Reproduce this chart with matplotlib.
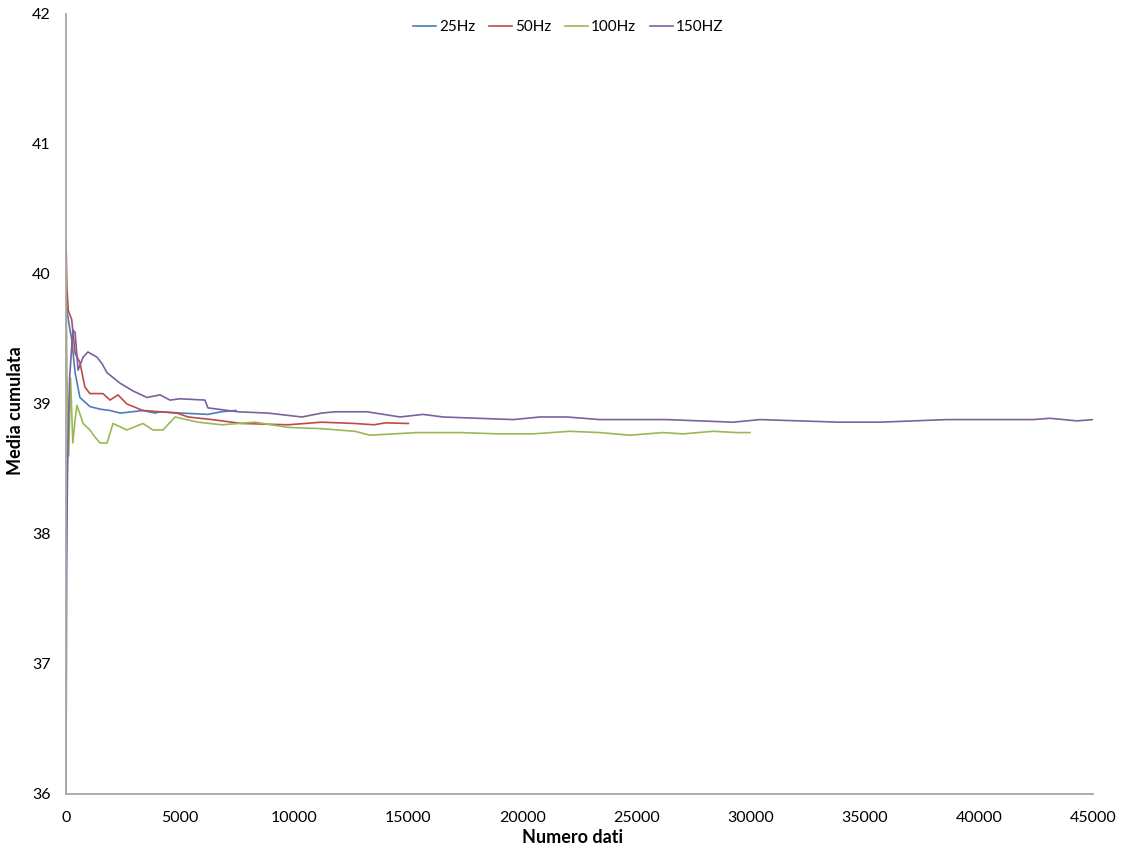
import matplotlib
matplotlib.use('Agg')
import matplotlib.pyplot as plt

# cumulative mean, (sample index, value)
x_25 = [0, 60, 175, 250, 400, 610, 1050, 1500, 1930, 2370, 2900, 3370, 3900, 4120, 5080, 6220, 6800, 7450]
y_25 = [39.85, 39.7, 39.57, 39.5, 39.24, 39.05, 38.98, 38.96, 38.95, 38.93, 38.94, 38.95, 38.93, 38.94, 38.93, 38.92, 38.94, 38.95]

x_50 = [0, 40, 100, 250, 400, 610, 830, 1050, 1620, 1930, 2280, 2670, 3370, 4120, 4860, 5350, 6400, 7700,
        9730, 11200, 12660, 13500, 14000, 15000]
y_50 = [40.26, 39.9, 39.72, 39.65, 39.39, 39.32, 39.13, 39.08, 39.08, 39.03, 39.07, 39.0, 38.95, 38.94, 38.93,
        38.9, 38.88, 38.85, 38.84, 38.86, 38.85, 38.84, 38.855, 38.85]

x_100 = [0, 40, 120, 200, 300, 400, 480, 560, 750, 1050, 1250, 1490, 1800, 2060, 2670, 3370, 3810, 4250, 4780,
         5780, 6840, 8280, 9730, 11200, 12660, 13320, 15380, 17260, 19000, 20460, 22080, 23400, 24700, 26160,
         27040, 28350, 29400, 29970]
y_100 = [40.1, 39.24, 38.6, 39.2, 38.7, 38.88, 38.99, 38.95, 38.85, 38.8, 38.75, 38.7, 38.7, 38.85, 38.8, 38.85,
         38.8, 38.8, 38.9, 38.86, 38.84, 38.86, 38.82, 38.81, 38.79, 38.76, 38.78, 38.78, 38.77, 38.77, 38.79,
         38.78, 38.76, 38.78, 38.77, 38.79, 38.78, 38.78]

x_150 = [0, 30, 60, 90, 160, 300, 400, 530, 750, 960, 1360, 1580, 1800, 2370, 2940, 3550, 4120, 4560, 5000,
         6090, 6220, 7540, 8850, 10340, 11200, 11790, 13190, 14640, 15640, 16520, 19600, 20770, 21950, 23400,
         26330, 29230, 30410, 32160, 33900, 35670, 38600, 40190, 42380, 43110, 44300, 45000]
y_150 = [36.0, 37.7, 38.36, 38.72, 39.2, 39.57, 39.55, 39.26, 39.36, 39.4, 39.36, 39.31, 39.24, 39.16, 39.1,
         39.05, 39.07, 39.03, 39.04, 39.03, 38.97, 38.94, 38.93, 38.9, 38.93, 38.94, 38.94, 38.9, 38.92, 38.9,
         38.88, 38.9, 38.9, 38.88, 38.88, 38.86, 38.88, 38.87, 38.86, 38.86, 38.88, 38.88, 38.88, 38.89, 38.87,
         38.88]

series = [('25Hz', x_25, y_25, '#4A7EBB'),
          ('50Hz', x_50, y_50, '#BE4B48'),
          ('100Hz', x_100, y_100, '#98B954'),
          ('150HZ', x_150, y_150, '#7D60A0')]

plt.rcParams['font.family'] = ['Lato', 'DejaVu Sans']

fig = plt.figure(figsize=(11.24, 8.48), dpi=100)
ax = fig.add_axes([0.0587, 0.0637, 0.9137, 0.9198])

for name, xs, ys, c in series:
    ax.plot(xs, ys, color=c, lw=1.2, label=name)

ax.set_xlim(0, 45000)
ax.set_ylim(36, 42)
ax.set_xticks(range(0, 45001, 5000))
ax.set_yticks(range(36, 43))
for s in ['top', 'right']:
    ax.spines[s].set_visible(False)
for s in ['left', 'bottom']:
    ax.spines[s].set_color('#A6A6A6')
    ax.spines[s].set_linewidth(1.3)
ax.tick_params(length=0, labelsize=11.5)
ax.tick_params(axis='x', pad=12)
ax.tick_params(axis='y', pad=11)

ax.set_xlabel('Numero dati', fontsize=13, fontweight='bold')
ax.set_ylabel('Media cumulata', fontsize=13, fontweight='bold')
ax.xaxis.set_label_coords(0.493, -0.045)
ax.yaxis.set_label_coords(-0.041, 0.492)

ax.legend(loc='upper center', bbox_to_anchor=(0.489, 1.0), ncol=4, frameon=False, borderaxespad=0,
          fontsize=11, handlelength=1.5, handletextpad=0.2, columnspacing=0.9)

fig.savefig('out.png', dpi=100)
